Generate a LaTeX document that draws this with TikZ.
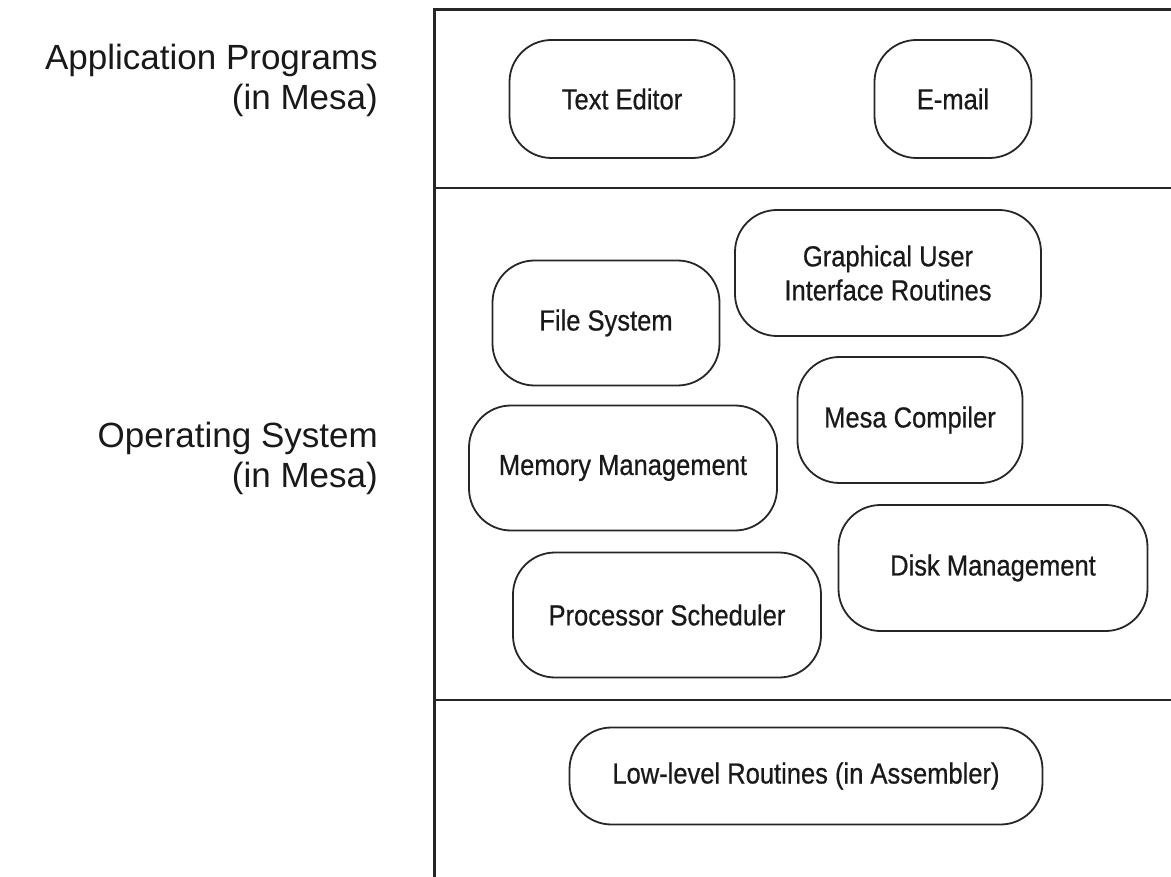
\documentclass[tikz,border=0pt]{standalone}
\usepackage{fontspec}
\setmainfont{Liberation Sans}
\newfontfamily\boxfont[FakeStretch=0.88,FakeBold=0.6]{Liberation Sans}
\begin{document}
\begin{tikzpicture}[x=1pt,y=-1pt,
  comp/.style={draw=black!85, line width=1.8pt, rounded corners=42pt, inner sep=0pt,
    font=\boxfont\fontsize{29}{34}\selectfont, align=center, text=black!90},
  layerlabel/.style={anchor=east, align=right, inner sep=0pt,
    font=\fontsize{35}{40}\selectfont, text=black!90},
  frame/.style={draw=black!85, line width=3pt}]
\useasboundingbox (0,0) rectangle (1171,877);
% frame
\coordinate (fbl) at (434,880);
\coordinate (ftl) at (434,10);
\coordinate (ftr) at (1175,10);
\draw[frame] (fbl) -- (ftl) -- (ftr);
\coordinate (d1l) at (434,188);
\coordinate (d1r) at (1175,188);
\coordinate (d2l) at (434,700);
\coordinate (d2r) at (1175,700);
\draw[draw=black!85, line width=2pt] (d1l) -- (d1r);
\draw[draw=black!85, line width=2pt] (d2l) -- (d2r);
% layer labels
\node[layerlabel] (app) at (378,80) {Application Programs\\(in Mesa)};
\node[layerlabel] (os) at (378,458) {Operating System\\(in Mesa)};
% components
\node[comp, minimum width=225pt, minimum height=118pt] (ted) at (622,99) {Text Editor};
\node[comp, minimum width=157pt, minimum height=118pt] (mail) at (953,99) {E-mail};
\node[comp, minimum width=306pt, minimum height=126pt] (gui) at (888,273) {Graphical User\\Interface Routines};
\node[comp, minimum width=227pt, minimum height=125pt] (fs) at (606,323) {File System};
\node[comp, minimum width=225pt, minimum height=126pt] (mc) at (910,420) {Mesa Compiler};
\node[comp, minimum width=308pt, minimum height=125pt] (mm) at (623,468) {Memory Management};
\node[comp, minimum width=309pt, minimum height=126pt] (dm) at (993,568) {Disk Management};
\node[comp, minimum width=308pt, minimum height=125pt] (ps) at (667,615) {Processor Scheduler};
\node[comp, minimum width=473pt, minimum height=97pt] (ll) at (806,776) {Low-level Routines (in Assembler)};
\end{tikzpicture}
\end{document}
